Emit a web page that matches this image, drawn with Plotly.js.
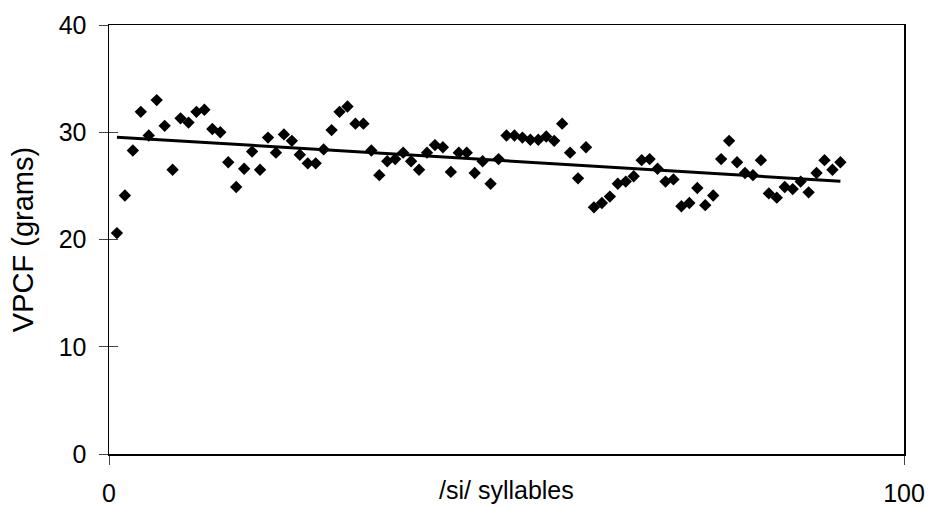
<!DOCTYPE html>
<html>
<head>
<meta charset="utf-8">
<script src="https://cdn.plot.ly/plotly-3.0.1.min.js"></script>
<style>
html, body { margin: 0; padding: 0; background: #fff; }
#chart { width: 931px; height: 506px; }
</style>
</head>
<body>
<div id="chart"></div>
<script>
// Data
const syllableIndex = [];
for (let i = 1; i <= 92; i++) syllableIndex.push(i);
const vpcf = [
  20.6, 24.1, 28.3, 31.9, 29.7, 33.0, 30.6, 26.5, 31.3, 30.9,
  31.9, 32.1, 30.3, 30.0, 27.2, 24.9, 26.6, 28.2, 26.5, 29.5,
  28.1, 29.8, 29.2, 27.9, 27.1, 27.1, 28.4, 30.2, 31.9, 32.4,
  30.8, 30.8, 28.3, 26.0, 27.3, 27.5, 28.1, 27.3, 26.5, 28.1,
  28.8, 28.6, 26.3, 28.1, 28.1, 26.2, 27.3, 25.2, 27.5, 29.7,
  29.7, 29.5, 29.3, 29.3, 29.6, 29.2, 30.8, 28.1, 25.7, 28.6,
  23.0, 23.4, 24.0, 25.2, 25.4, 25.9, 27.4, 27.5, 26.6, 25.4,
  25.6, 23.1, 23.4, 24.8, 23.2, 24.1, 27.5, 29.2, 27.2, 26.2,
  26.0, 27.4, 24.3, 23.9, 24.9, 24.7, 25.4, 24.4, 26.2, 27.4,
  26.5, 27.2
];
const xTickVals = [0, 100];
const xTickText = ['0', '100'];
const yTickVals = [0, 10, 20, 30, 40];
const yTickText = ['0', '10', '20', '30', '40'];

// Linear trend line (least squares) computed from the data
const n = vpcf.length;
const mx = syllableIndex.reduce((a, b) => a + b, 0) / n;
const my = vpcf.reduce((a, b) => a + b, 0) / n;
let sxy = 0, sxx = 0;
for (let i = 0; i < n; i++) {
  sxy += (syllableIndex[i] - mx) * (vpcf[i] - my);
  sxx += (syllableIndex[i] - mx) ** 2;
}
const slope = sxy / sxx;
const intercept = my - slope * mx;
const trendX = [syllableIndex[0], syllableIndex[n - 1]];
const trendY = trendX.map(x => intercept + slope * x);

const FONT = 'Liberation Sans, Arial, sans-serif';

const traces = [
  {
    x: trendX, y: trendY, type: 'scatter', mode: 'lines',
    line: { color: '#000', width: 3 },
    hoverinfo: 'skip', showlegend: false
  },
  {
    x: syllableIndex, y: vpcf, type: 'scatter', mode: 'markers',
    marker: { symbol: 'diamond', size: 9.5, color: '#000' },
    showlegend: false
  },
  {
    // helper trace so the inner-tick axis is drawn (no visible mark)
    x: trendX, y: trendY, type: 'scatter', mode: 'lines', yaxis: 'y2',
    line: { color: 'rgba(0,0,0,0)', width: 0 },
    showlegend: false, hoverinfo: 'skip'
  }
];

const layout = {
  width: 931, height: 506,
  margin: { l: 109, r: 27, t: 25, b: 52 },
  paper_bgcolor: '#fff', plot_bgcolor: '#fff',
  font: { family: FONT, size: 25, color: '#000' },
  showlegend: false,
  xaxis: {
    range: [0, 100], tickvals: xTickVals, ticktext: xTickText,
    showgrid: false, zeroline: false,
    showline: true, linecolor: '#000', linewidth: 1.5, mirror: true,
    ticks: 'outside', ticklen: 9, tickwidth: 1, tickcolor: '#444',
    ticklabelstandoff: 7,
    tickfont: { family: FONT, size: 25, color: '#000' },
    title: { text: '' }
  },
  yaxis: {
    range: [0, 40], tickvals: yTickVals, ticktext: yTickText,
    showgrid: false, zeroline: false,
    showline: true, linecolor: '#000', linewidth: 1.5, mirror: true,
    ticks: 'outside', ticklen: 9, tickwidth: 1, tickcolor: '#444',
    ticklabelstandoff: 7,
    tickfont: { family: FONT, size: 25, color: '#000' },
    title: { text: 'VPCF (grams)', font: { family: FONT, size: 29, color: '#000' }, standoff: 16 }
  },
  yaxis2: {
    overlaying: 'y', anchor: 'x', side: 'left',
    range: [0, 40], tickvals: [10, 20, 30],
    showgrid: false, zeroline: false, showline: false,
    ticks: 'inside', ticklen: 9, tickwidth: 1, tickcolor: '#444',
    showticklabels: false
  },
  annotations: [
    {
      text: '/si/ syllables', xref: 'paper', yref: 'paper',
      x: 0.5, y: -0.085, xanchor: 'center', yanchor: 'middle',
      showarrow: false, font: { family: FONT, size: 25, color: '#000' }
    }
  ]
};

Plotly.newPlot('chart', traces, layout, { displayModeBar: false, staticPlot: true });
</script>
</body>
</html>
